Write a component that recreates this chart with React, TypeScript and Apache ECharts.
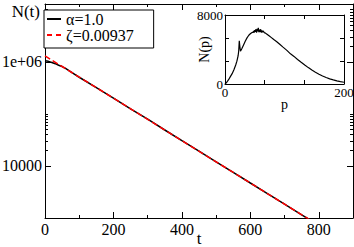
import React, { useEffect, useRef } from "react";
import * as echarts from "echarts";

// Main plot: simulated N(t) (alpha = 1.0)
const tSim = [0, 10, 20, 30, 40, 50, 60, 80, 100, 150, 200, 250, 300, 350, 400, 450, 500, 550, 600, 650, 700, 750, 800];
const nSim = [1.045e6, 1.02e6, 9.7e5, 9.2e5, 8.6e5, 8.1e5, 7.45e5, 6.1e5, 5.05e5, 3.2e5, 2.0e5, 1.25e5, 7.9e4, 4.9e4, 3.05e4, 1.92e4, 1.2e4, 7.5e3, 4.7e3, 2.95e3, 1.85e3, 1.15e3, 7.3e2];
// Main plot: exponential fit (zeta = 0.00937)
const tFit = [0, 100, 200, 300, 400, 500, 600, 700, 800];
const nFit = [1.3e6, 5.09e5, 2.0e5, 7.82e4, 3.06e4, 1.2e4, 4.7e3, 1.84e3, 7.22e2];

// Inset: N(p)
const pIn = [0, 3, 6, 9, 12, 15, 18, 20, 22, 23, 24, 25, 26, 28, 31, 34, 37, 40, 43, 45, 47, 48, 49, 50, 51, 52, 53, 54, 55, 56, 57, 58, 59, 60, 61, 62, 63, 64, 66, 68, 70, 74, 78, 82, 87, 92, 97, 104, 110, 116, 122, 128, 134, 140, 146, 152, 158, 164, 170, 176, 182, 188, 194, 200];
const nIn = [0, 200, 500, 850, 1200, 1650, 2200, 2650, 3250, 3800, 5000, 4300, 3800, 4050, 4500, 4950, 5350, 5650, 5850, 5950, 6000, 6150, 5950, 6250, 6050, 6350, 5950, 6400, 6100, 6500, 6000, 6300, 6050, 6350, 5950, 6200, 6000, 6150, 5950, 5900, 5800, 5600, 5380, 5150, 4900, 4600, 4300, 3900, 3500, 3200, 2850, 2520, 2200, 1900, 1620, 1370, 1140, 930, 750, 600, 470, 360, 270, 200];

// Tick values
const xMajor = [200, 400, 600, 800];
const xMinor = [100, 300, 500, 700];
const xLabels = [0, 200, 400, 600, 800];
const yMajor = [1e4, 1e6];
const yMinor = [2e4, 3e4, 4e4, 5e4, 6e4, 7e4, 8e4, 9e4, 1e5, 2e6, 3e6, 4e6, 5e6, 6e6, 7e6, 8e6, 9e6, 1e7];
const insetXLabels = [0, 200];
const insetXMinor = [66.67, 133.33];
const insetYLabels = [0, 8000];
const insetYMinor = [2666.7, 5333.3];

const serif = "Liberation Serif";
const lg = (v: number) => Math.log10(v);

function App() {
  const ref = useRef<HTMLDivElement>(null);
  useEffect(() => {
    if (!ref.current) return;
    const chart = echarts.init(ref.current, undefined, { renderer: "svg" });
    const black = "#000";
    const line = (show: boolean) => ({ show, onZero: false, lineStyle: { color: black, width: 1 } });
    const ticks = (vals: number[], len: number) => ({ show: true, inside: true, length: len, customValues: vals, lineStyle: { color: black, width: 1 } });
    const noLabel = { show: false };
    const base = { type: "value", splitLine: { show: false }, minorTick: { show: false }, nameMoveOverlap: false };
    const label = (vals: number[], size: number, margin: number, fmt: (v: number) => string) => ({
      customValues: vals, fontSize: size, fontFamily: serif, color: black, margin,
      formatter: (v: number) => "{s|" + fmt(v) + "}",
      rich: { s: { fontFamily: serif, fontSize: size, color: black } },
    });

    const mainX = { ...base, gridIndex: 0, min: 0, max: 900 };
    const mainY = { ...base, gridIndex: 0, min: 3, max: 7.11 };
    const inX = { ...base, gridIndex: 1, min: 0, max: 200 };
    const inY = { ...base, gridIndex: 1, min: 0, max: 8000 };
    const logLabel = (v: number) => {
      const e = Math.round(v);
      return e >= 5 ? "1e+" + String(e).padStart(2, "0") : String(Math.round(Math.pow(10, v)));
    };

    const option: any = {
      animation: false,
      backgroundColor: "#fff",
      textStyle: { fontFamily: serif, color: black },
      grid: [
        { left: 45, right: 1, top: 4, bottom: 29, outerBoundsMode: "none", containLabel: false },
        { left: 225, right: 10, top: 15, bottom: 163, show: true, backgroundColor: "#fff", borderWidth: 0, outerBoundsMode: "none", containLabel: false },
      ],
      xAxis: [
        {
          ...mainX, position: "bottom", axisLine: line(true), axisTick: ticks(xMajor, 6),
          axisLabel: label(xLabels, 16, 3, (v) => String(v)),
          name: "t", nameLocation: "middle", nameGap: 14,
          nameTextStyle: { fontSize: 17, fontFamily: serif, color: black, lineHeight: 12 },
        },
        { ...mainX, position: "bottom", axisLine: line(false), axisTick: ticks(xMinor, 3), axisLabel: noLabel },
        { ...mainX, position: "top", axisLine: line(true), axisTick: ticks(xMajor, 6), axisLabel: noLabel },
        { ...mainX, position: "top", axisLine: line(false), axisTick: ticks(xMinor, 3), axisLabel: noLabel },
        {
          ...inX, position: "bottom", axisLine: line(true), axisTick: ticks(insetXMinor, 4),
          axisLabel: label(insetXLabels, 13, 2, (v) => String(v)),
          name: "p", nameLocation: "middle", nameGap: 13,
          nameTextStyle: { fontSize: 14, fontFamily: serif, color: black },
        },
        { ...inX, position: "top", axisLine: line(true), axisTick: ticks(insetXMinor, 4), axisLabel: noLabel },
      ],
      yAxis: [
        {
          ...mainY, position: "left", axisLine: line(true), axisTick: ticks(yMajor.map(lg), 6),
          axisLabel: label(yMajor.map(lg), 16, 3, logLabel),
        },
        { ...mainY, position: "left", axisLine: line(false), axisTick: ticks(yMinor.map(lg), 3), axisLabel: noLabel },
        { ...mainY, position: "right", axisLine: line(true), axisTick: ticks(yMajor.map(lg), 6), axisLabel: noLabel },
        { ...mainY, position: "right", axisLine: line(false), axisTick: ticks(yMinor.map(lg), 3), axisLabel: noLabel },
        {
          ...inY, position: "left", axisLine: line(true), axisTick: ticks(insetYMinor, 4),
          axisLabel: label(insetYLabels, 13, 2, (v) => String(v)),
          name: "N(p)", nameLocation: "middle", nameGap: 14,
          nameTextStyle: { fontSize: 14, fontFamily: serif, color: black },
        },
        { ...inY, position: "right", axisLine: line(true), axisTick: ticks(insetYMinor, 4), axisLabel: noLabel },
      ],
      legend: {
        data: [
          { name: "α=1.0", icon: "path://M0,0h14v2h-14z" },
          { name: "ζ=0.00937", icon: "path://M0,0h5v2h-5zM9,0h5v2h-5z" },
        ],
        left: 44, top: 10, orient: "vertical",
        backgroundColor: "#fff", borderColor: black, borderWidth: 1, borderRadius: 0,
        padding: [1, 20, 5, 3], itemGap: 0, itemWidth: 14, itemHeight: 2,
        textStyle: { fontFamily: serif, fontSize: 16, color: black, lineHeight: 16 },
      },
      graphic: [
        {
          type: "text", x: 40, y: 11,
          style: { text: "N(t)", fontSize: 17, fontFamily: serif, fill: black, align: "right", verticalAlign: "middle", textAlign: "right", textVerticalAlign: "middle" },
        },
      ],
      series: [
        {
          type: "line", name: "α=1.0", xAxisIndex: 0, yAxisIndex: 0,
          data: tSim.map((t, i) => [t, lg(nSim[i])]),
          symbol: "none", showSymbol: false, clip: true,
          lineStyle: { color: black, width: 1.5 }, itemStyle: { color: black },
        },
        {
          type: "line", name: "ζ=0.00937", xAxisIndex: 0, yAxisIndex: 0,
          data: tFit.map((t, i) => [t, lg(nFit[i])]),
          symbol: "none", showSymbol: false, clip: true,
          lineStyle: { color: "#ff0000", width: 1.5, type: [6, 3] }, itemStyle: { color: "#ff0000" },
        },
        {
          type: "line", name: "N(p)", xAxisIndex: 4, yAxisIndex: 4,
          data: pIn.map((p, i) => [p, nIn[i]]),
          symbol: "none", showSymbol: false, clip: true,
          lineStyle: { color: black, width: 1.2 }, itemStyle: { color: black },
        },
      ],
    };
    chart.setOption(option);
    return () => chart.dispose();
  }, []);
  return <div ref={ref} style={{ position: "fixed", left: 0, top: 0, width: 354, height: 247 }} />;
}

export default App;
